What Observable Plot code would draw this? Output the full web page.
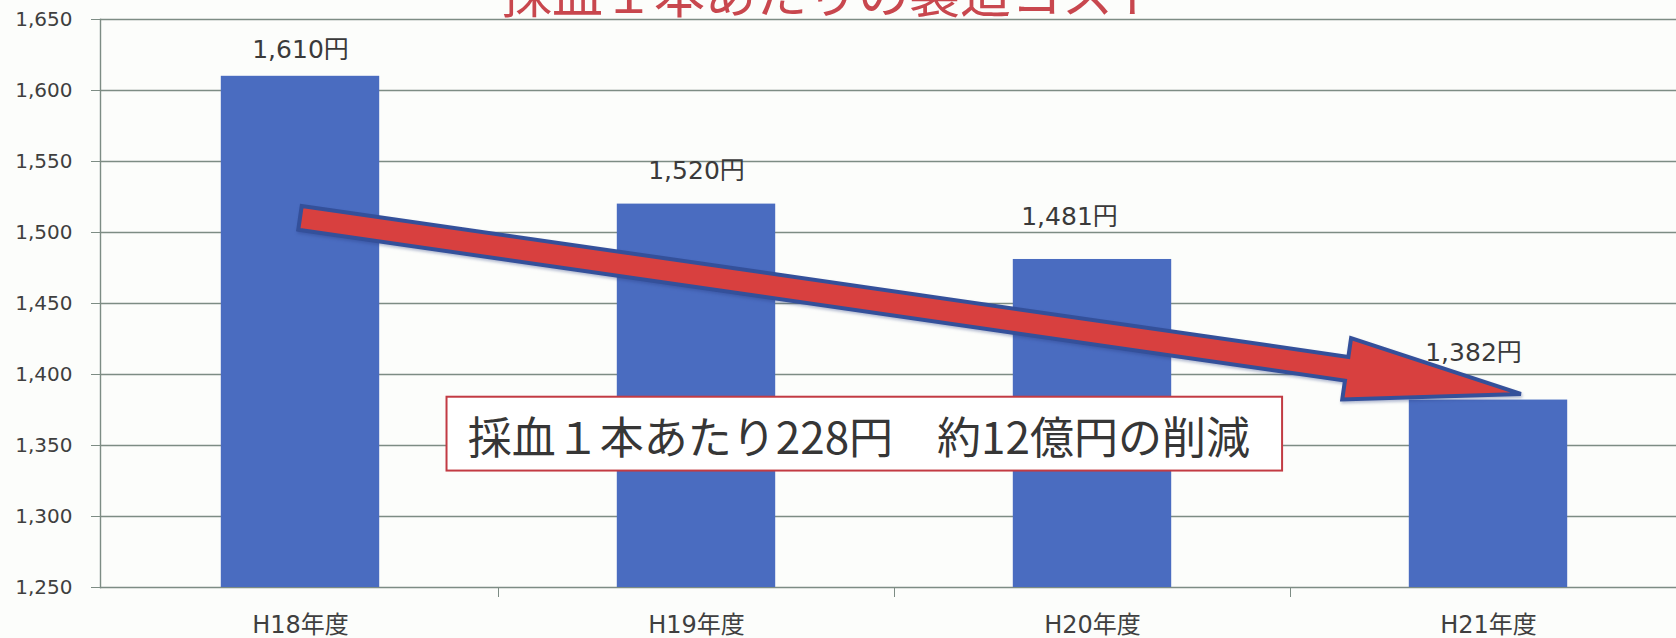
<!DOCTYPE html>
<html><head><meta charset="utf-8">
<script src="https://cdn.jsdelivr.net/npm/d3@7"></script>
<script src="https://cdn.jsdelivr.net/npm/@observablehq/plot@0.6"></script>
<style>
html,body{margin:0;padding:0;background:#fcfdfb;}
#chart svg{display:block;}
</style></head><body><div id="chart"></div>
<script>
const categories = ["H18年度", "H19年度", "H20年度", "H21年度"];
const costs = [1610, 1520, 1481, 1382];
const valueLabels = ["1,610円", "1,520円", "1,481円", "1,382円"];
const yTicks = [1250, 1300, 1350, 1400, 1450, 1500, 1550, 1600, 1650];
const yTickLabels = ["1,250", "1,300", "1,350", "1,400", "1,450", "1,500", "1,550", "1,600", "1,650"];
const titleText = ["採血１本あたりの製造コスト"];
const noteText = ["採血１本あたり228円　約12億円の削減"];

const rows = categories.map((c, i) => ({i, c, v: costs[i], label: valueLabels[i]}));
const boundaries = categories.slice(1).map((c, i) => i + 0.5);

const GRID = "#7d8c84";
const FONT = "'DejaVu Sans', 'Noto Sans CJK JP', sans-serif";

// label offsets (styling of the data labels, as placed in the original)
const labelShift = [{dx: 0, dy: -26}, {dx: 0, dy: -33}, {dx: -23, dy: -42}, {dx: -15, dy: -47}];

function blockArrow(index, scales) {
  const x0 = scales.x(0), y0 = scales.y(1510);
  const x1 = scales.x(3.083), y1 = scales.y(1386);
  const dx = x1 - x0, dy = y1 - y0, len = Math.hypot(dx, dy);
  const ux = dx / len, uy = dy / len, nx = -uy, ny = ux;
  const hw = 12, hh = 31, hl = 176;
  const bx = x1 - ux * hl, by = y1 - uy * hl;
  const pts = [
    [x0 + nx * hw, y0 + ny * hw],
    [bx + nx * hw, by + ny * hw],
    [bx + nx * hh, by + ny * hh],
    [x1, y1],
    [bx - nx * hh, by - ny * hh],
    [bx - nx * hw, by - ny * hw],
    [x0 - nx * hw, y0 - ny * hw]
  ];
  const g = d3.create("svg:g");
  g.append("polygon")
    .attr("points", pts.map(p => p.join(",")).join(" "))
    .attr("fill", "#d8403f")
    .attr("stroke", "#34509a")
    .attr("stroke-width", 4)
    .attr("stroke-linejoin", "miter")
    .style("filter", "drop-shadow(1px 2px 1.5px rgba(40,60,130,0.35))");
  return g.node();
}

const chart = Plot.plot({
  width: 1676,
  height: 638,
  marginTop: 19,
  marginBottom: 51,
  marginLeft: 100,
  marginRight: 0,
  style: {fontFamily: FONT, background: "transparent", overflow: "hidden"},
  x: {domain: [-0.5, 3.5], range: [102, 1686], label: null},
  y: {domain: [1250, 1650], label: null},
  marks: [
    Plot.gridY(yTicks, {stroke: GRID, strokeOpacity: 1, strokeWidth: 1.4}),
    Plot.frame({anchor: "left", stroke: GRID, strokeWidth: 1.4}),
    Plot.axisY({ticks: yTicks, tickFormat: d => yTickLabels[yTicks.indexOf(d)], tickSize: 9, tickPadding: 19,
      fontSize: 20, fill: "#3f3f3f", stroke: GRID, label: null}),
    Plot.axisX({ticks: boundaries, tickFormat: () => "", tickSize: 10, stroke: GRID, label: null}),
    Plot.axisX({ticks: rows.map(d => d.i), tickFormat: i => categories[i], tickSize: 0, tickPadding: 28,
      fontSize: 24, fill: "#3f3f3f", label: null}),
    Plot.rectY(rows, {x1: d => d.i - 0.2, x2: d => d.i + 0.2, y1: 1250, y2: "v", fill: "#4a6cc0"}),
    ...rows.map((r, k) => Plot.text([r], {x: "i", y: "v", text: "label", dx: labelShift[k].dx, dy: labelShift[k].dy,
      fontSize: 25, fill: "#3a3a3a"})),
    Plot.rect([0], {x1: 0.37, x2: 2.48, y1: 1332, y2: 1384, fill: "#ffffff", stroke: "#c23b43", strokeWidth: 2}),
    Plot.text(noteText, {x: 1.41, y: 1354, text: d => d, fontSize: 44, fill: "#363636",
      fontFamily: "'Noto Sans CJK JP', sans-serif"}),
    blockArrow,
    Plot.text(titleText, {frameAnchor: "top", dx: -56, dy: -43, text: d => d, fontSize: 51, fill: "#c8474e",
      fontFamily: "'Noto Sans CJK JP', sans-serif"})
  ]
});
document.getElementById("chart").appendChild(chart);
</script></body></html>
